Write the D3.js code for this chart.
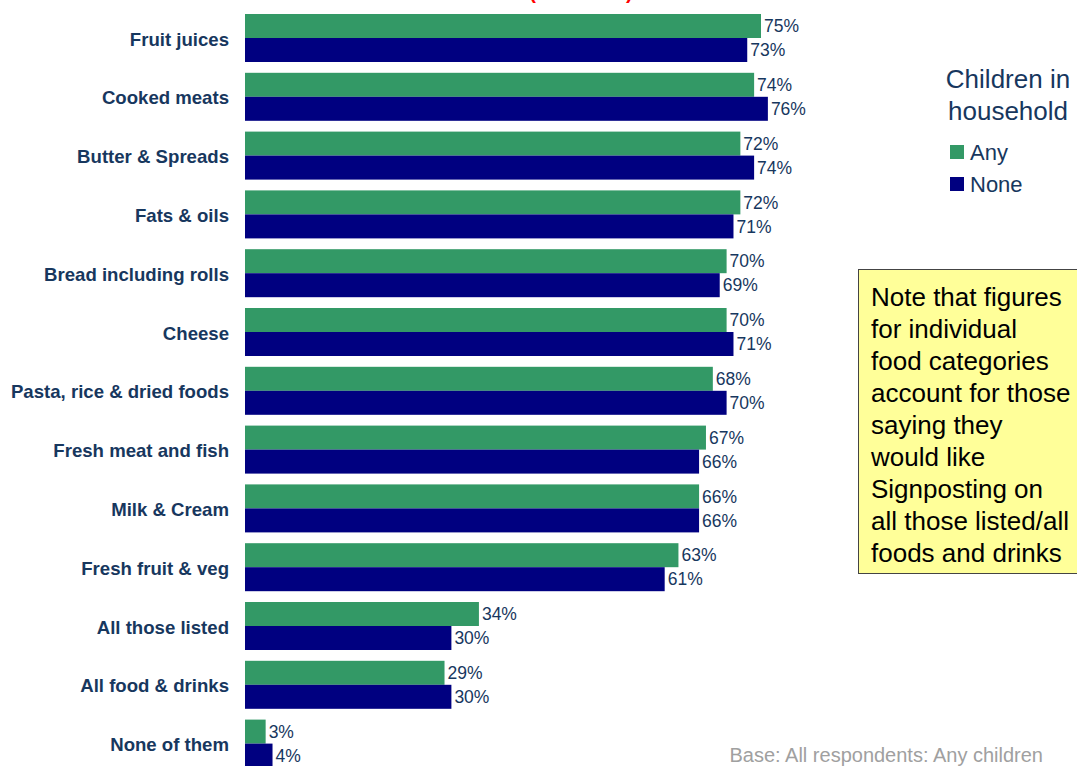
<!DOCTYPE html>
<meta charset="utf-8">
<head>
  <title>Signposting by children in household</title>
</head>
<style>
body { margin: 0; background: #fff; }
svg { font-family: "Liberation Sans", Arial, sans-serif; display: block; }
.cat { font-size: 18.6px; font-weight: bold; fill: #17375E; }
.val { font-size: 17.5px; fill: #17375E; }
.legend text { fill: #17375E; }
</style>
<body>
<script src="https://d3js.org/d3.v7.min.js"></script>
<script>
var width = 1077,
  height = 766

// data
var categories = ["Fruit juices", "Cooked meats", "Butter & Spreads", "Fats & oils",
  "Bread including rolls", "Cheese", "Pasta, rice & dried foods", "Fresh meat and fish",
  "Milk & Cream", "Fresh fruit & veg", "All those listed", "All food & drinks", "None of them"]
var anyChildren = [75, 74, 72, 72, 70, 70, 68, 67, 66, 63, 34, 29, 3]
var noChildren = [73, 76, 74, 71, 69, 71, 70, 66, 66, 61, 30, 30, 4]
var series = [
  {key: "Any", values: anyChildren, color: "#339966"},
  {key: "None", values: noChildren, color: "#000080"}
]
var noteLines = ["Note that figures", "for individual", "food categories",
  "account for those", "saying they", "would like", "Signposting on",
  "all those listed/all", "foods and drinks"]

var svg = d3.select("body").append("svg")
    .attr("width", width)
    .attr("height", height)

var x = d3.scaleLinear()
    .domain([0, 75])
    .range([245, 761])

var step = 58.8,
  barH = 24

// cut-off red heading at the very top
svg.append("text")
    .attr("x", 581)
    .attr("y", -1)
    .attr("text-anchor", "middle")
    .style("font-size", "20px")
    .style("font-weight", "bold")
    .style("fill", "#FF0000")
    .text("(All adults)")

var rows = svg.selectAll(".row")
    .data(categories)
  .enter().append("g")
    .attr("class", "row")
    .attr("transform", function(d, i) { return "translate(0," + (14 + i * step) + ")" })

rows.append("text")
    .attr("class", "cat")
    .attr("x", 229)
    .attr("y", barH + 1)
    .attr("dy", "0.35em")
    .attr("text-anchor", "end")
    .text(function(d) { return d })

series.forEach(function(s, si) {
  rows.append("rect")
      .attr("x", x(0))
      .attr("y", si * barH)
      .attr("width", function(d, i) { return x(s.values[i]) - x(0) })
      .attr("height", barH)
      .style("fill", s.color)

  rows.append("text")
      .attr("class", "val")
      .attr("x", function(d, i) { return x(s.values[i]) + 3 })
      .attr("y", si * barH + barH / 2)
      .attr("dy", "0.35em")
      .text(function(d, i) { return s.values[i] + "%" })
})

// legend
var legend = svg.append("g").attr("class", "legend")
legend.append("text")
    .attr("x", 1008).attr("y", 88)
    .attr("text-anchor", "middle")
    .style("font-size", "26px")
    .text("Children in")
legend.append("text")
    .attr("x", 1008).attr("y", 120)
    .attr("text-anchor", "middle")
    .style("font-size", "26px")
    .text("household")

var li = legend.selectAll(".li")
    .data(series)
  .enter().append("g")
    .attr("transform", function(d, i) { return "translate(950," + (145 + i * 32) + ")" })
li.append("rect")
    .attr("width", 14).attr("height", 14)
    .style("fill", function(d) { return d.color })
li.append("text")
    .attr("x", 20).attr("y", 7)
    .attr("dy", "0.35em")
    .style("font-size", "22px")
    .text(function(d) { return d.key })

// note box
var note = svg.append("g")
note.append("rect")
    .attr("x", 858.5).attr("y", 269.5)
    .attr("width", 240).attr("height", 304)
    .style("fill", "#FFFF99")
    .style("stroke", "#444")
    .style("stroke-width", 1)
note.selectAll("text")
    .data(noteLines)
  .enter().append("text")
    .attr("x", 871)
    .attr("y", function(d, i) { return 306 + i * 32 })
    .style("font-size", "26px")
    .style("fill", "#000")
    .text(function(d) { return d })

svg.append("text")
    .attr("x", 1043).attr("y", 762)
    .attr("text-anchor", "end")
    .style("font-size", "20px")
    .style("fill", "#A0A0A0")
    .text("Base: All respondents: Any children")
</script>
</body>
</html>
